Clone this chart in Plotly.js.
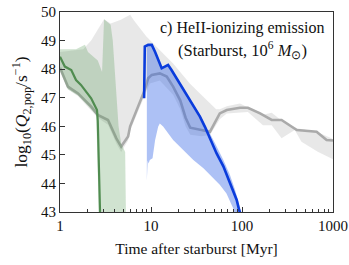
<!DOCTYPE html>
<html><head><meta charset="utf-8">
<script src="https://cdn.plot.ly/plotly-3.0.1.min.js"></script>
<style>html,body{margin:0;padding:0;background:#fff;}#plot{width:349px;height:265px;}</style>
</head><body><div id="plot"></div>
<script>
// ---- data ----
const grayUpT = [1, 1.8, 2.2, 2.7, 3.05, 3.6, 4.6, 5.9, 6.5, 8.9, 10.5, 13.5, 17.5, 26.7, 34.5, 44.5, 52, 57, 68, 95, 122, 170, 212, 283, 400, 660, 960, 1000];
const grayUpV = [48.6, 48.7, 49.0, 49.5, 49.75, 49.6, 49.72, 49.9, 49.7, 49.14, 48.9, 48.56, 48.2, 47.5, 47.15, 46.8, 46.6, 46.6, 46.7, 46.8, 46.64, 46.4, 46.47, 46.16, 45.93, 45.81, 45.58, 45.55];
const grayLoT = [1, 1.22, 1.58, 1.87, 2.2, 2.6, 3.37, 4.16, 4.7, 5.6, 5.9, 8.6, 9.7, 12.5, 17.5, 21, 24, 27, 36, 44.5, 57, 68, 116, 170, 212, 272, 380, 450, 680, 960, 1000];
const grayLoV = [47.9, 47.3, 47.05, 46.8, 46.55, 46.3, 46.05, 45.4, 45.1, 45.5, 45.85, 47.1, 47.5, 47.6, 47.1, 46.6, 46.0, 45.7, 45.65, 45.7, 46.25, 46.45, 46.5, 46.04, 46.04, 45.58, 45.87, 45.46, 45.11, 44.88, 44.85];
const grayT = [1, 1.22, 1.58, 1.87, 2.2, 2.6, 3.37, 4.16, 4.7, 5.6, 5.9, 8.6, 9.3, 10.2, 12.5, 14.9, 17.5, 21, 24, 27, 36, 44.5, 57, 68, 95, 116, 158, 212, 272, 400, 660, 850, 1000];
const grayV = [48.05, 47.39, 47.15, 46.92, 46.69, 46.4, 46.22, 45.58, 45.29, 45.64, 46.0, 47.3, 47.68, 47.8, 47.85, 47.74, 47.39, 46.9, 46.3, 45.95, 45.87, 45.81, 46.45, 46.57, 46.65, 46.65, 46.45, 46.22, 46.22, 45.87, 45.81, 45.52, 45.5];

const greenUpT = [1, 1.5, 1.88, 2.03, 2.6, 2.9, 3.05, 3.6, 3.8, 4.0, 4.2, 4.4, 4.7, 5.2, 5.35];
const greenUpV = [48.7, 48.7, 48.85, 48.6, 48.3, 47.9, 49.75, 49.55, 49.0, 47.9, 46.8, 46.0, 45.4, 45.1, 42];
const greenLoT = [1, 1.22, 1.58, 1.87, 2.2, 2.5, 2.62, 2.7];
const greenLoV = [47.95, 47.3, 47.08, 46.85, 46.6, 46.4, 44.0, 42];
const greenT = [1, 1.13, 1.33, 1.5, 1.7, 1.93, 2.2, 2.4, 2.55, 2.6, 2.68, 2.78];
const greenV = [48.43, 48.09, 47.97, 47.62, 47.45, 47.2, 46.98, 46.74, 46.57, 46.2, 44.6, 42.5];

const blueUpT = [9.0, 9.3, 10.2, 11.1, 12, 13.1, 14.2, 15.4, 16.8, 19.1, 21.7, 26.8, 34.5, 44.5, 50.7, 62.4, 73.6, 84, 95, 100];
const blueUpV = [48.8, 48.85, 48.85, 48.6, 48.32, 48.03, 48.09, 48.15, 47.97, 47.68, 47.39, 46.92, 46.4, 45.75, 45.4, 44.82, 44.3, 43.77, 43.19, 42.9];
const blueLoT = [9.0, 9.2, 9.4, 9.7, 10.4, 11.1, 12, 12.5, 13.6, 17.5, 22.7, 29.2, 37.7, 48.3, 57, 67.5, 77, 80, 85, 100];
const blueLoV = [44.1, 44.8, 44.7, 44.82, 44.88, 45.52, 45.99, 46.1, 45.99, 45.52, 45.17, 44.82, 44.53, 44.18, 43.95, 43.65, 43.25, 43.13, 42.8, 42.8];
const blueT = [8.4, 8.55, 9.3, 10.2, 11.1, 12, 13.1, 14.2, 15.4, 16.8, 19.1, 21.7, 26.8, 34.5, 39, 44.5, 52.6, 62.4, 73.6, 87.4, 93, 100];
const blueV = [46.98, 48.79, 48.85, 48.85, 48.6, 48.32, 48.03, 48.09, 48.15, 47.97, 47.68, 47.39, 46.92, 46.34, 45.99, 45.58, 45.05, 44.6, 44.0, 43.42, 43.07, 42.8];

const xTickVals = [1, 10, 100, 1000];
const xTickText = ['1', '10', '100', '1000'];
const yTickVals = [43, 44, 45, 46, 47, 48, 49, 50];
const yTickText = ['43', '44', '45', '46', '47', '48', '49', '50'];

// ---- build ----
function band(upT, upV, loT, loV, color) {
  return {
    x: upT.concat(loT.slice().reverse()),
    y: upV.concat(loV.slice().reverse()),
    type: 'scatter', mode: 'lines', fill: 'toself', fillcolor: color,
    line: {width: 0, color: 'rgba(0,0,0,0)'}, hoverinfo: 'skip', showlegend: false
  };
}
function line(t, v, color, w) {
  return {x: t, y: v, type: 'scatter', mode: 'lines', line: {color: color, width: w}, showlegend: false};
}
const serif = 'Liberation Serif, Times New Roman, serif';
const data = [
  band(grayUpT, grayUpV, grayLoT, grayLoV, 'rgba(150,150,150,0.22)'),
  line(grayT, grayV, 'rgb(170,170,170)', 2.6),
  band(greenUpT, greenUpV, greenLoT, greenLoV, 'rgba(80,150,80,0.27)'),
  line(greenT, greenV, 'rgb(80,140,80)', 2.2),
  band(blueUpT, blueUpV, blueLoT, blueLoV, 'rgba(50,100,230,0.4)'),
  line(blueT, blueV, 'rgb(10,60,220)', 2.6)
];
const layout = {
  width: 349, height: 265,
  margin: {l: 60, r: 16, t: 12, b: 53},
  paper_bgcolor: '#fff', plot_bgcolor: '#fff',
  font: {family: serif, size: 15, color: '#111'},
  xaxis: {
    type: 'log', range: [0, 3], tickmode: 'array', tickvals: xTickVals, ticktext: xTickText,
    ticks: 'inside', ticklen: 5, tickcolor: '#333', showline: true, linecolor: '#333', linewidth: 1,
    mirror: true, showgrid: false, zeroline: false,
    minor: {ticks: 'inside', ticklen: 3, dtick: 'D1', tickcolor: '#333', showgrid: false},
    title: {text: 'Time after starburst [Myr]', font: {family: serif, size: 15.5}, standoff: 10}
  },
  yaxis: {
    range: [43, 50], tickmode: 'array', tickvals: yTickVals, ticktext: yTickText,
    ticks: 'inside', ticklen: 5, tickcolor: '#333', showline: true, linecolor: '#333', linewidth: 1,
    mirror: true, showgrid: false, zeroline: false,
    title: {text: 'log<sub>10</sub>(<i>Q</i><sub>2,pop</sub>/s<sup>−1</sup>)', font: {family: serif, size: 17.5}, standoff: 8}
  },
  annotations: [
    {xref: 'paper', yref: 'paper', x: 0.667, y: 0.918, xanchor: 'center', yanchor: 'middle', showarrow: false,
     text: 'c) HeII-ionizing emission', font: {family: serif, size: 16, color: '#111'}},
    {xref: 'paper', yref: 'paper', x: 0.667, y: 0.812, xanchor: 'center', yanchor: 'middle', showarrow: false,
     text: '(Starburst, 10<sup>6</sup> <i>M</i><sub>⊙</sub>)', font: {family: serif, size: 16.5, color: '#111'}}
  ]
};
Plotly.newPlot('plot', data, layout, {staticPlot: true, displayModeBar: false});
</script></body></html>
